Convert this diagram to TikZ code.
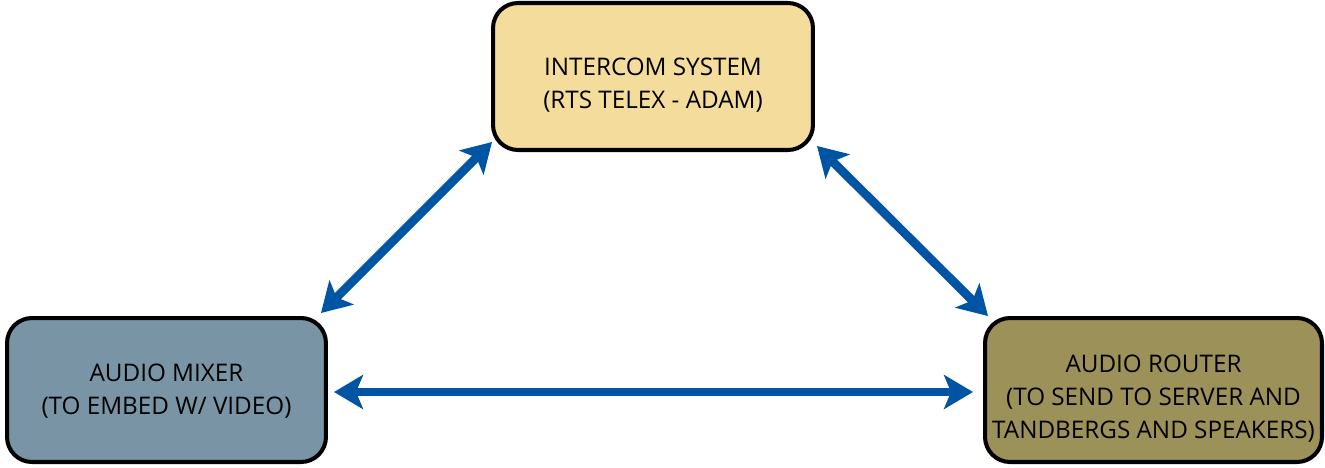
\documentclass[tikz,border=0pt]{standalone}
\usepackage{fontspec}
\setmainfont{Open Sans}
\usetikzlibrary{arrows.meta}
\definecolor{intercomFill}{RGB}{243,220,156}
\definecolor{mixerFill}{RGB}{121,149,165}
\definecolor{routerFill}{RGB}{157,145,90}
\definecolor{linkBlue}{RGB}{0,84,164}
\newcommand\dropline[1]{\rule{0pt}{#1}}
\tikzset{
  unitbox/.style={draw=black,line width=2.3pt,rounded corners=0.5cm,align=center,
    inner sep=0pt,font=\fontsize{13.8}{18.8}\selectfont},
  linktip/.tip={Stealth[length=0.58cm,width=0.68cm,inset=0.14cm]},
  link/.style={draw=linkBlue,line width=5pt,linktip-linktip},
}

\begin{document}
\begin{tikzpicture}[x=0.02cm,y=-0.02cm]
\useasboundingbox (0,0) rectangle (1325,467);
\node[unitbox,fill=intercomFill,minimum width=6.4cm,minimum height=2.94cm] (intercom) at (653,76.5)
  {\dropline{20pt}INTERCOM SYSTEM\\(RTS TELEX - ADAM)};
\node[unitbox,fill=mixerFill,minimum width=6.38cm,minimum height=2.88cm] (mixer) at (166.5,390)
  {\dropline{11.5pt}AUDIO MIXER\\(TO EMBED W/ VIDEO)};
\node[unitbox,fill=routerFill,minimum width=6.74cm,minimum height=2.88cm] (router) at (1153.5,390)
  {\dropline{20pt}AUDIO ROUTER\\(TO SEND TO SERVER AND\\TANDBERGS AND SPEAKERS)};
% links between the three units
\draw[link] ([shift={(-7,-3)}]mixer.north east) -- ([shift={(1,-10)}]intercom.south west);
\draw[link] ([shift={(2,-6)}]intercom.south east) -- ([shift={(5,0)}]router.north west);
\draw[link] ([shift={(6,2)}]mixer.east) -- ([shift={(-10,2)}]router.west);
\end{tikzpicture}
\end{document}
